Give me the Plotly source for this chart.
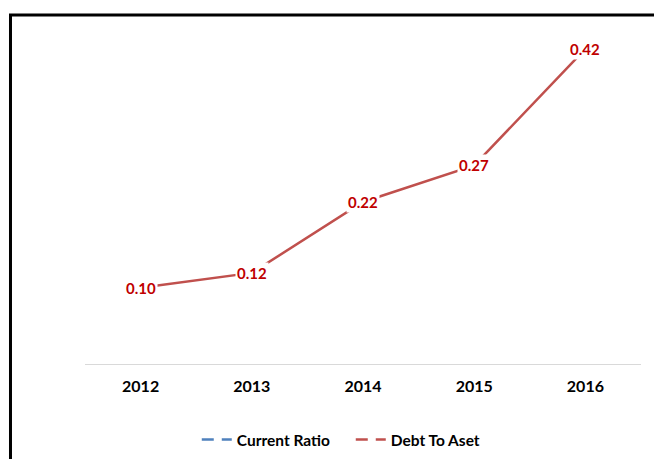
import plotly.graph_objects as go

years = ["2012", "2013", "2014", "2015", "2016"]
debt_to_asset = [0.102, 0.122, 0.217, 0.266, 0.422]
debt_labels = ["0.10", "0.12", "0.22", "0.27", "0.42"]
current_ratio = [None, None, None, None, None]

FONT = "Lato"
RED_LINE = "#C0504D"
RED_TEXT = "#C00000"
BLUE = "#4F81BD"

fig = go.Figure()

fig.add_trace(go.Scatter(x=years, y=debt_to_asset, mode="lines",
                         line=dict(color=RED_LINE, width=2.5),
                         showlegend=False, hoverinfo="skip"))
fig.add_trace(go.Scatter(x=years, y=current_ratio, mode="lines",
                         line=dict(color=BLUE, width=2.5),
                         showlegend=False, hoverinfo="skip"))

fig.add_trace(go.Scatter(x=[None], y=[None], mode="lines", name="<b>Current Ratio</b>",
                         line=dict(color=BLUE, width=2.5, dash="12px,8px")))
fig.add_trace(go.Scatter(x=[None], y=[None], mode="lines", name="<b>Debt To Aset</b>",
                         line=dict(color=RED_LINE, width=2.5, dash="12px,8px")))

for i, (y, t) in enumerate(zip(debt_to_asset, debt_labels)):
    fig.add_annotation(x=i, y=y, xref="x", yref="y", text="<b>%s</b>" % t, showarrow=False,
                       font=dict(family=FONT, size=15, color=RED_TEXT),
                       bgcolor="white", borderpad=1, xanchor="center", yanchor="middle")

fig.add_shape(type="rect", xref="paper", yref="paper",
              x0=-0.134, x1=1.08, y0=-0.4, y1=1.0387,
              line=dict(color="black", width=3), fillcolor="rgba(0,0,0,0)", layer="above")

fig.update_layout(
    width=654, height=451,
    margin=dict(l=77, r=21, t=20, b=95, autoexpand=False),
    paper_bgcolor="white", plot_bgcolor="white",
    font=dict(family=FONT, color="black"),
    xaxis=dict(type="category", range=[-0.5, 4.5], showgrid=False, showline=True,
               linecolor="#D9D9D9", linewidth=1, ticks="", ticklabelstandoff=8,
               tickfont=dict(family=FONT, size=16, color="black"),
               tickvals=years, ticktext=["<b>%s</b>" % y for y in years]),
    yaxis=dict(range=[0, 0.45], showticklabels=False, showgrid=False, zeroline=False,
               showline=False, ticks=""),
    legend=dict(orientation="h", x=0.478, xanchor="center", y=-0.226, yanchor="middle",
                font=dict(family=FONT, size=15.5, color="black"), itemwidth=30,
                entrywidth=109, entrywidthmode="pixels", traceorder="normal"),
    showlegend=True,
)

fig.write_html("out.html")
